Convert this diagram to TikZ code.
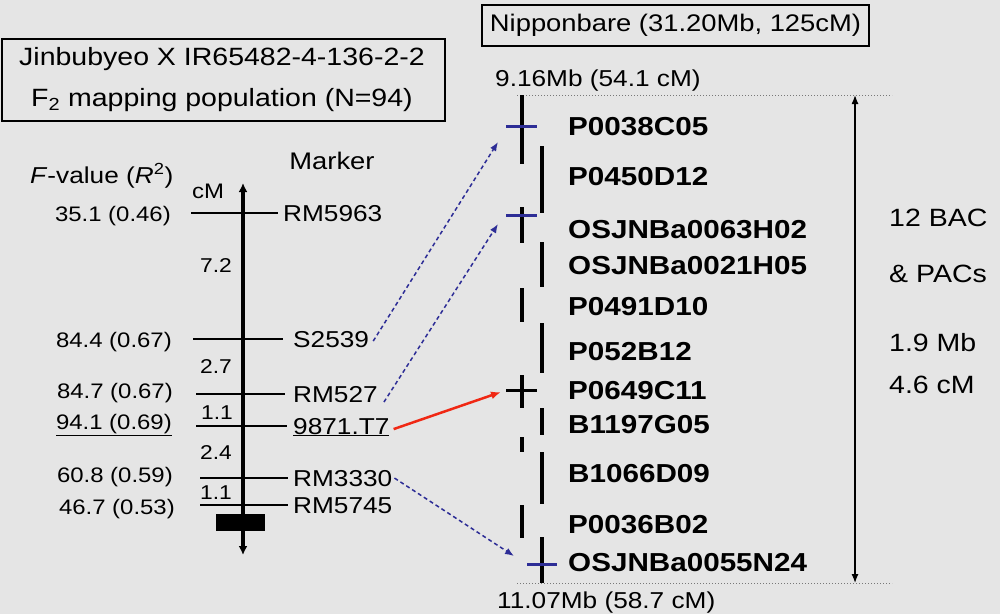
\documentclass[tikz,border=0pt]{standalone}
\usepackage{fontspec}
\setmainfont[FakeStretch=1.14]{Liberation Sans}
\usetikzlibrary{arrows.meta}
\definecolor{bg}{RGB}{229,229,229}
\definecolor{navy}{RGB}{45,45,150}
\definecolor{redarr}{RGB}{240,40,20}
\definecolor{dotgray}{RGB}{120,120,120}
\newcommand\fsz[1]{\fontsize{#1}{#1}\selectfont}
\begin{document}
\begin{tikzpicture}[x=1pt,y=-1pt,
  every node/.style={inner sep=0pt},
  mlab/.style={font={\fsz{23}}, anchor=base west},
  fval/.style={font={\fsz{21}}, anchor=base east},
  gaplab/.style={font={\fsz{20}}},
  bac/.style={font={\fsz{26}\bfseries}, anchor=base west},
  sumlab/.style={font={\fsz{25}}, anchor=base west},
  tickl/.style={line width=1.3pt},
  seg/.style={line width=4.5pt},
  bluetick/.style={line width=3pt, navy},
  bluearr/.style={navy, line width=1.5pt, dash pattern=on 4pt off 3pt, -{Latex[length=9pt,width=7pt]}},
  redarrow/.style={redarr, line width=2.5pt, -{Latex[length=10pt,width=8pt]}},
  boxed/.style={draw, line width=1.3pt},
]
\fill[bg] (0,0) rectangle (1000,614);
\useasboundingbox (0,0) rectangle (1000,614);

% population box
\node[boxed, minimum width=443pt, minimum height=82pt] (popbox) at (223.5,80) {};
\node[font={\fsz{25}}] (poptitle) at (222,59) {Jinbubyeo X IR65482-4-136-2-2};
\node[font={\fsz{25}}] (popsub) at (222,100) {F\textsubscript{2} mapping population (N=94)};

% headers
\node[font={\fsz{23}}, anchor=west] (fvalhead) at (30,176) {\textit{F}-value (\textit{R}\textsuperscript{2})};
\node[font={\fsz{24}}] (markerhead) at (332,161) {Marker};
\node[font={\fsz{21}}] (cmhead) at (208,191) {cM};

% axis
\coordinate (axtop) at (243,183);
\coordinate (axbot) at (243,555);
\draw[line width=3.5pt, {Latex[length=9pt,width=9pt]}-{Latex[length=9pt,width=9pt]}] (axbot) -- (axtop);

% ticks
\draw[tickl] (191,213) -- (278,213);
\draw[tickl] (193,339) -- (283,339);
\draw[tickl] (196,394) -- (285,394);
\draw[tickl] (196,426) -- (287,426);
\draw[tickl] (200,478) -- (288,478);
\draw[tickl] (200,505) -- (288,505);
\fill (216,514) rectangle (265,531);

% marker labels
\node[mlab] (rm5963) at (283,221) {RM5963};
\node[mlab] (s2539) at (293,347) {S2539};
\node[mlab] (rm527) at (293,402) {RM527};
\node[mlab] (t7) at (293,434) {\underline{9871.T7}};
\node[mlab] (rm3330) at (293,486) {RM3330};
\node[mlab] (rm5745) at (293,513) {RM5745};

% F-values
\node[fval] (f1) at (171,221) {35.1 (0.46)};
\node[fval] (f2) at (172,347) {84.4 (0.67)};
\node[fval] (f3) at (173,398) {84.7 (0.67)};
\node[fval] (f4) at (172,429) {\underline{94.1 (0.69)}};
\node[fval] (f5) at (173,482) {60.8 (0.59)};
\node[fval] (f6) at (175,514) {46.7 (0.53)};

% intervals
\node[gaplab] (g1) at (216,266) {7.2};
\node[gaplab] (g2) at (216,367) {2.7};
\node[gaplab] (g3) at (217,413) {1.1};
\node[gaplab] (g4) at (216,453) {2.4};
\node[gaplab] (g5) at (216,493) {1.1};

% Nipponbare box
\node[boxed, minimum width=387pt, minimum height=41pt, font={\fsz{24}}] (nipbox) at (675.5,25.5) {Nipponbare (31.20Mb, 125cM)};
\node[font={\fsz{23}}, anchor=base west] (topmb) at (495,86) {9.16Mb (54.1 cM)};
\node[font={\fsz{23}}, anchor=base west] (botmb) at (497,608) {11.07Mb (58.7 cM)};
\draw[dotgray, line width=1pt, dotted] (517,95) -- (892,95);
\draw[dotgray, line width=1pt, dotted] (517,583) -- (892,583);
\coordinate (spantop) at (855,95);
\coordinate (spanbot) at (855,583);
\draw[line width=1.3pt, {Latex[length=9pt,width=7pt]}-{Latex[length=9pt,width=7pt]}] (spanbot) -- (spantop);

% BAC segments
\draw[seg] (522,95) -- (522,164);
\draw[seg] (542,146) -- (542,213);
\draw[seg] (522,207) -- (522,243);
\draw[seg] (542,242) -- (542,287);
\draw[seg] (522,288) -- (522,322);
\draw[seg] (542,323) -- (542,373);
\draw[seg] (522,375) -- (522,408);
\draw[seg] (542,408) -- (542,435);
\draw[seg] (522,437) -- (522,452);
\draw[seg] (542,452) -- (542,504);
\draw[seg] (522,505) -- (522,538);
\draw[seg] (542,537) -- (542,583);

% marker positions on BACs
\draw[bluetick] (506,126) -- (537,126);
\draw[bluetick] (506,215) -- (537,215);
\draw[line width=3pt] (506,390) -- (537,390);
\draw[bluetick] (527,564) -- (557,564);

% BAC labels
\node[bac] (b1) at (568,135) {P0038C05};
\node[bac] (b2) at (568,185) {P0450D12};
\node[bac] (b3) at (568,238) {OSJNBa0063H02};
\node[bac] (b4) at (568,274) {OSJNBa0021H05};
\node[bac] (b5) at (568,315) {P0491D10};
\node[bac] (b6) at (568,360) {P052B12};
\node[bac] (b7) at (568,399) {P0649C11};
\node[bac] (b8) at (568,433) {B1197G05};
\node[bac] (b9) at (568,482) {B1066D09};
\node[bac] (b10) at (568,533) {P0036B02};
\node[bac] (b11) at (568,571) {OSJNBa0055N24};

% summary
\node[sumlab] (sum1) at (889,226) {12 BAC};
\node[sumlab] (sum2) at (889,282) {\& PACs};
\node[sumlab] (sum3) at (889,351) {1.9 Mb};
\node[sumlab] (sum4) at (889,393) {4.6 cM};

% connectors
\coordinate (p1) at (498,142);
\coordinate (p2) at (498,224);
\coordinate (p3) at (501,392);
\coordinate (p4) at (514,556);
\draw[bluearr] ([shift={(4pt,-2pt)}]s2539.east) -- (p1);
\draw[bluearr] ([shift={(6pt,-8pt)}]rm527.east) -- (p2);
\draw[redarrow] ([shift={(4pt,-2pt)}]t7.east) -- (p3);
\draw[bluearr] ([shift={(2pt,0pt)}]rm3330.east) -- (p4);
\end{tikzpicture}
\end{document}
